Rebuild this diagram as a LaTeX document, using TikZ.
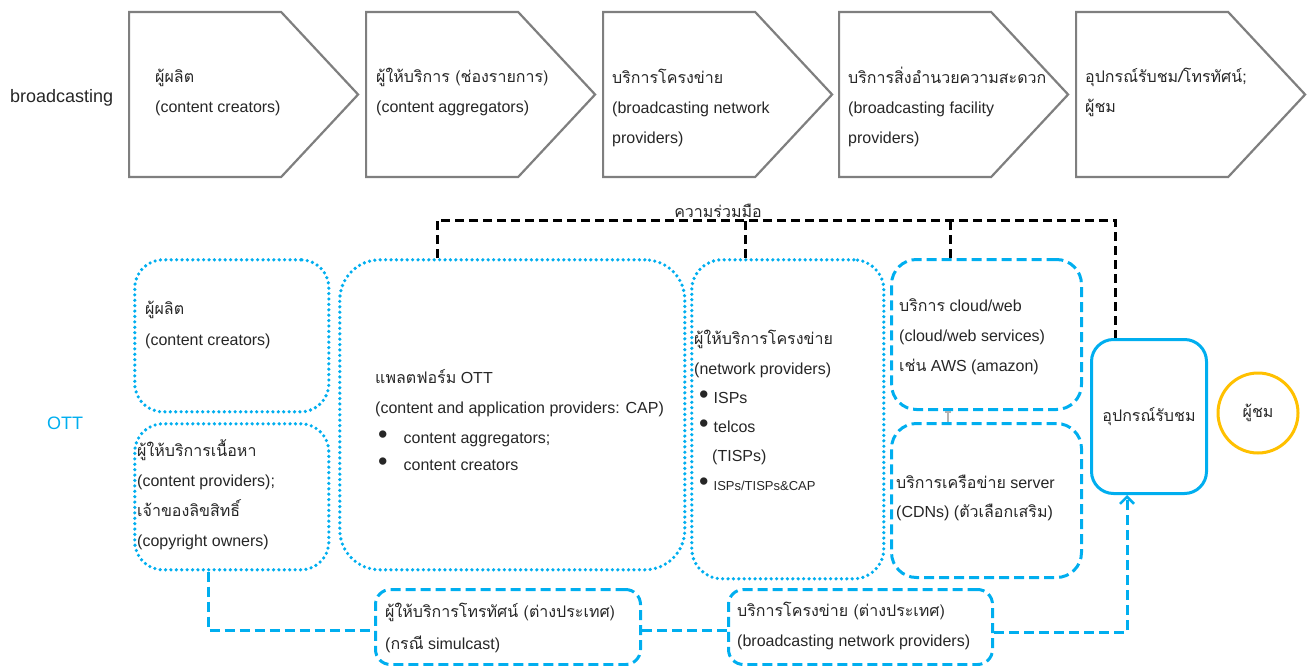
\documentclass[tikz,border=0pt]{standalone}
\usepackage{fontspec}
\setmainfont{Liberation Sans}
\newfontfamily\thfont[Script=Thai]{Loma}
\newcommand\tx[1]{{\thfont #1}}
\newcommand\bul{\raisebox{-0.5pt}{\fontsize{27}{10}\selectfont\textbullet}}
\usetikzlibrary{arrows.meta,shapes.symbols}
\definecolor{cy}{HTML}{00AEEF}
\definecolor{org}{HTML}{FFC000}
\definecolor{gr}{HTML}{7F7F7F}
\definecolor{txt}{HTML}{262626}
\begin{document}
\begin{tikzpicture}[x=1pt,y=-1pt,
  pent/.style={draw=gr,line width=2.2pt,signal,signal to=east,minimum width=229pt,minimum height=165pt,signal pointer angle=94,inner sep=0pt,anchor=west},
  lbl/.style={anchor=base west,align=left,inner sep=0pt,text=txt,font=\fontsize{16}{30}\selectfont},
  dotbox/.style={draw=cy,line width=3.6pt,dash pattern=on 0pt off 5.4pt,line cap=round,anchor=north west,inner sep=0pt},
  dashbox/.style={draw=cy,line width=3pt,dash pattern=on 10pt off 5pt,anchor=north west,inner sep=0pt},
  cyline/.style={draw=cy,line width=3pt,dash pattern=on 10pt off 5pt},
  blk/.style={draw=black,line width=3pt,dash pattern=on 9pt off 5pt}
]
\useasboundingbox (0,0) rectangle (1311,666);
% broadcasting chain
\node[anchor=west,inner sep=0pt,font=\fontsize{18}{20}\selectfont,text=txt] (bc) at (10,98) {broadcasting};
\node[pent] (p1) at (128,94.5) {};
\node[pent] (p2) at (365,94.5) {};
\node[pent] (p3) at (602,94.5) {};
\node[pent] (p4) at (838,94.5) {};
\node[pent] (p5) at (1075,94.5) {};
\node[lbl] (t1) at (155,113) {\tx{ผู้ผลิต}\\(content creators)};
\node[lbl] (t2) at (376,113) {\tx{ผู้ให้บริการ (ช่องรายการ)}\\(content aggregators)};
\node[lbl] (t3) at (612,143) {\tx{บริการโครงข่าย}\\(broadcasting network\\providers)};
\node[lbl] (t4) at (848,143) {\tx{บริการสิ่งอำนวยความสะดวก}\\(broadcasting facility\\providers)};
\node[lbl] (t5) at (1085,113) {\tx{อุปกรณ์รับชม/โทรทัศน์;}\\\tx{ผู้ชม}};
% OTT
\node[text=cy,font=\fontsize{18}{20}\selectfont,inner sep=0pt] (ott) at (65,423) {OTT};
\node[dotbox,rounded corners=28pt,minimum width=194pt,minimum height=152pt] (A) at (133,258) {};
\node[dotbox,rounded corners=28pt,minimum width=194pt,minimum height=146pt] (B) at (133,422) {};
\node[dotbox,rounded corners=40pt,minimum width=345pt,minimum height=310pt] (C) at (338,258) {};
\node[dotbox,rounded corners=30pt,minimum width=192pt,minimum height=319pt] (D) at (690,258) {};
\node[dashbox,rounded corners=25pt,minimum width=190pt,minimum height=150pt] (E) at (890,258) {};
\node[dashbox,rounded corners=25pt,minimum width=190pt,minimum height=154pt] (F) at (890,422) {};
\node[draw=cy,line width=3pt,rounded corners=22pt,minimum width=115pt,minimum height=154pt,anchor=north west,inner sep=0pt] (G) at (1090,338) {};
\node[draw=org,line width=3pt,circle,minimum size=80pt,inner sep=0pt] (H) at (1258,413) {};
\node[dashbox,rounded corners=15pt,minimum width=265pt,minimum height=75pt] (I) at (374,588) {};
\node[dashbox,rounded corners=15pt,minimum width=264pt,minimum height=75pt] (J) at (727,588) {};
% texts (anchor = baseline of last line)
\node[lbl,font=\fontsize{16}{31}\selectfont] (ta) at (145,345) {\tx{ผู้ผลิต}\\(content creators)};
\node[lbl] (tb) at (137,546) {\tx{ผู้ให้บริการเนื้อหา}\\(content providers);\\\tx{เจ้าของลิขสิทธิ์}\\(copyright owners)};
\node[lbl] (tc) at (375,413) {\tx{แพลตฟอร์ม} OTT\\(content and application providers: CAP)};
\node[lbl,font=\fontsize{16}{27}\selectfont] (tc2) at (378,470) {\bul\hspace{16pt}content aggregators;\\\bul\hspace{16pt}content creators};
\node[lbl,font=\fontsize{16}{30}\selectfont] (td) at (694,374) {\tx{ผู้ให้บริการโครงข่าย}\\(network providers)};
\node[lbl,font=\fontsize{16}{29}\selectfont] (td2) at (699,490) {\bul\hspace{5pt}ISPs\\\bul\hspace{5pt}telcos\\\hspace{13pt}(TISPs)\\\bul\hspace{5pt}{\fontsize{13}{29}\selectfont ISPs/TISPs\&CAP}};
\node[lbl] (te) at (899,371) {\tx{บริการ} cloud/web\\(cloud/web services)\\\tx{เช่น} AWS (amazon)};
\node[lbl,font=\fontsize{16}{29}\selectfont] (tf) at (896,517) {\tx{บริการเครือข่าย} server\\(CDNs) (\tx{ตัวเลือกเสริม})};
\node[text=txt,font=\fontsize{16}{20}\selectfont] (tg) at (G.center) {\tx{อุปกรณ์รับชม}};
\node[text=txt,font=\fontsize{16}{20}\selectfont] (th) at (H.center) {\tx{ผู้ชม}};
\node[lbl,font=\fontsize{16}{32}\selectfont] (ti) at (385,649) {\tx{ผู้ให้บริการโทรทัศน์ (ต่างประเทศ)}\\(\tx{กรณี} simulcast)};
\node[lbl] (tj) at (737,646) {\tx{บริการโครงข่าย (ต่างประเทศ)}\\(broadcasting network providers)};
% cooperation lines
\draw[blk] (C.north -| 437,0) -- (437,220) -| (G.north -| 1115,0);
\draw[blk] (D.north -| 745,0) -- (745,220);
\draw[blk] (E.north -| 950,0) -- (950,220);
\node[text=txt,font=\fontsize{16}{20}\selectfont,inner sep=1pt,anchor=base] (coop) at (718,217) {\tx{ความร่วมมือ}};
% small tick
\draw[gr!60,line width=1.5pt,-{Bar[width=6pt]}] (F.north -| 948,0) -- (E.south -| 948,0);
% cyan connectors
\draw[cyline] (B.south -| 208,0) |- (I.west |- 0,630);
\draw[cyline] (I.east |- 0,630) -- (J.west |- 0,630);
\draw[cyline,-{Straight Barb[length=7pt,width=14pt,line width=2.5pt]}] (J.east |- 0,632) -| (G.south -| 1127,0);
\end{tikzpicture}
\end{document}
